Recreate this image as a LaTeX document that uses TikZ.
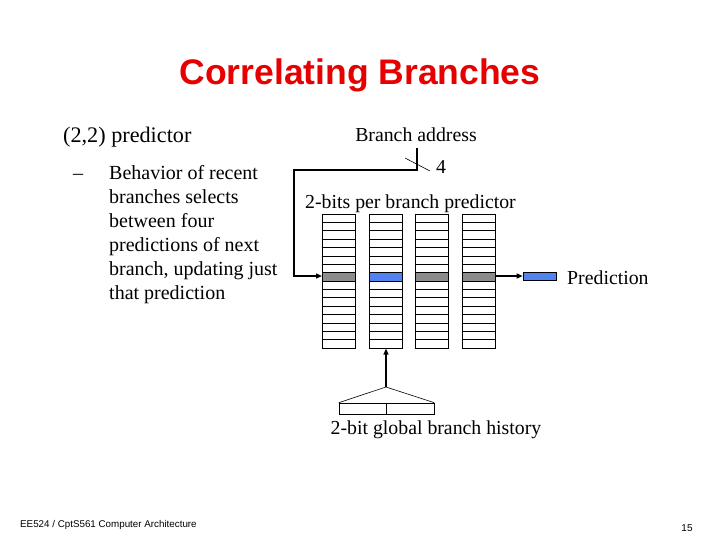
\documentclass[tikz,border=0pt]{standalone}
\usepackage{fontspec}
\setmainfont{Liberation Serif}
\setsansfont{Liberation Sans}
\usetikzlibrary{arrows.meta}
\definecolor{titlered}{RGB}{230,0,0}
\definecolor{predblue}{RGB}{80,130,240}
\definecolor{predgray}{RGB}{140,140,140}
\begin{document}
\begin{tikzpicture}[x=1pt,y=-1pt,
  lbl/.style={inner sep=0pt,font=\fontsize{19.8}{20}\selectfont},
  col/.style={draw,line width=0.6pt,minimum width=33pt,minimum height=134pt,inner sep=0pt,anchor=north west},
  conn/.style={line width=1.4pt,-{Triangle[length=6pt,width=5pt]}}]
\useasboundingbox (0,0) rectangle (720,540);
\fill[white] (0,0) rectangle (720,540);
\node[font=\sffamily\bfseries\fontsize{35.5}{36}\selectfont,text=titlered] (title) at (360,75) {Correlating Branches};
\node[anchor=west,inner sep=0pt,font=\fontsize{22.2}{22}\selectfont] (pp) at (63,137) {(2,2) predictor};
\node[anchor=west,inner sep=0pt,font=\fontsize{20}{20}\selectfont] (dash) at (73,177) {--};
\node[anchor=north west,inner sep=0pt,align=left,font=\fontsize{20}{24}\selectfont] (bul) at (109,165) {Behavior of recent\\branches selects\\between four\\predictions of next\\branch, updating just\\that prediction};
\node[lbl] (ba) at (416,135) {Branch address};
\node[lbl] (four) at (441,167) {4};
\node[lbl,anchor=west] (bpp) at (305,204) {2-bits per branch predictor};
\node[lbl,anchor=west] (pred) at (567,278) {Prediction};
\node[lbl] (gbh) at (436,430) {2-bit global branch history};
\foreach \i/\x in {1/322,2/369,3/415,4/462}{
  \node[col] (c\i) at (\x,214) {};
  \foreach \r in {1,...,15}{ \draw[line width=0.6pt] (\x,214+\r*8.375) -- (\x+33,214+\r*8.375); }
}
\foreach \i in {1,3,4}{\fill[predgray,draw=black,line width=0.6pt] ([yshift=-58.6pt]c\i.north west) rectangle ([yshift=-67pt]c\i.north east);}
\fill[predblue,draw=black,line width=0.6pt] ([yshift=-58.6pt]c2.north west) rectangle ([yshift=-67pt]c2.north east);
\node[draw,fill=predblue,line width=0.6pt,minimum width=33pt,minimum height=8pt,inner sep=0pt] (pbox) at (539.5,276) {};
\coordinate (bat) at (417,148);
\draw[conn] (bat) -- (417,170) -- (294,170) -- (294,276) -- (c1.west |- 0,276);
\draw[line width=0.6pt] (405,158) -- (430,171);
\draw[conn] (c4.east |- 0,276) -- (pbox.west);
\node[draw,line width=0.6pt,minimum width=95pt,minimum height=11pt,inner sep=0pt] (hist) at (386.5,408.5) {};
\draw[line width=0.6pt] (hist.north) -- (hist.south);
\coordinate (apex) at (386,387);
\draw[line width=0.6pt] (hist.north west) -- (apex) -- (hist.north east);
\draw[conn] (apex) -- (c2.south -| apex);
\node[font=\sffamily\fontsize{9.8}{10}\selectfont,anchor=west,inner sep=0pt] (foot) at (20,525) {EE524 / CptS561 Computer Architecture};
\node[font=\sffamily\fontsize{10}{10}\selectfont,inner sep=0pt] (pg) at (687,528) {15};
\end{tikzpicture}
\end{document}
